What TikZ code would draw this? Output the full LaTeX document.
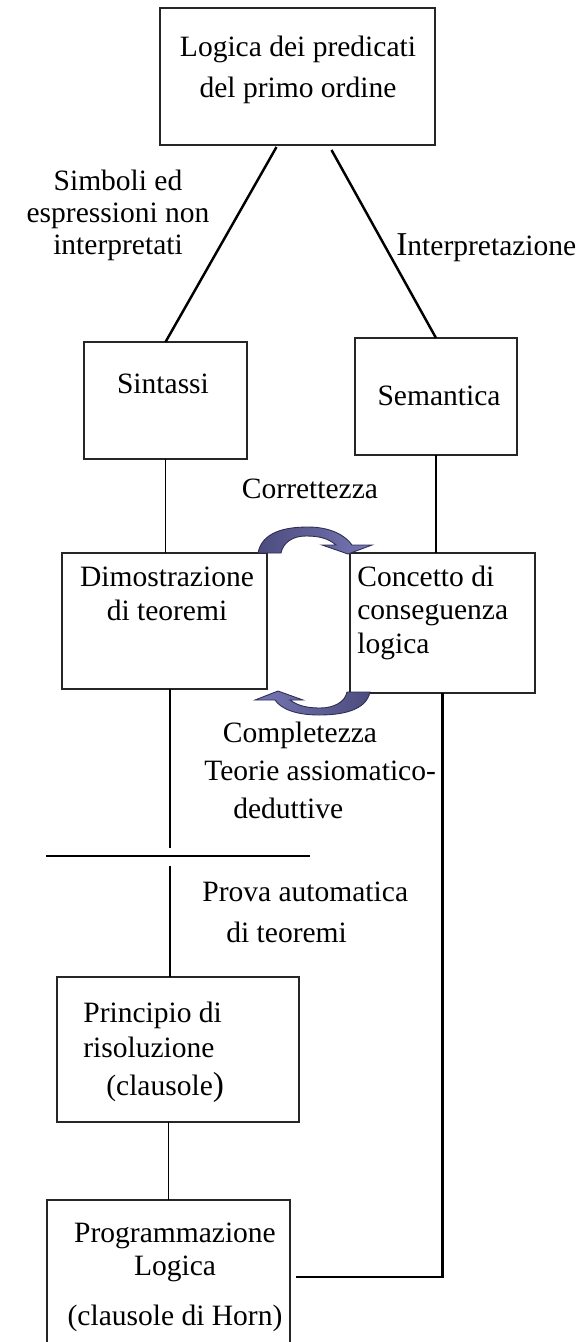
\documentclass[tikz,border=0pt]{standalone}
\usepackage{fontspec}
\setmainfont{Liberation Serif}
\usetikzlibrary{calc}
\definecolor{arrowdark}{RGB}{76,76,126}
\definecolor{arrowlight}{RGB}{118,118,180}
\definecolor{arrowedge}{RGB}{45,45,85}
\begin{document}
\begin{tikzpicture}[
    x=0.02cm, y=-0.02cm,
    % Box style
    box/.style={
        rectangle,
        draw=black!85,
        line width=0.8pt,
        inner sep=0pt,
        outer sep=0pt
    },
    % Label style (anchored on the baseline of the last line)
    lbl/.style={
        inner sep=0pt,
        font=\fontsize{16.8}{#1}\selectfont
    },
    lbl/.default=19,
    % Line styles
    thin/.style={line width=0.75pt},
    thickline/.style={line width=1.4pt},
    % Curved arrow style
    curvy/.style={
        draw=arrowedge,
        line width=0.5pt
    }
]

\clip (0,0) rectangle (575,1342);

% === Top: logic ===
\node[box, minimum width=5.5cm, minimum height=2.74cm] (top) at (297.5,76.5) {};
\node[lbl=22.8, anchor=base, align=center] (toptxt) at (298,97)
    {Logica dei predicati\\del primo ordine};

% === Syntax / Semantics ===
\node[box, minimum width=3.26cm, minimum height=2.34cm] (sin) at (165.5,400.5) {};
\node[lbl, anchor=base] (sintxt) at (163,393) {Sintassi};
\node[box, minimum width=3.24cm, minimum height=2.34cm] (sem) at (436,396.5) {};
\node[lbl, anchor=base] (semtxt) at (439,405) {Semantica};

\node[lbl=18.2, anchor=base, align=center] (simb) at (118,254)
    {Simboli ed\\espressioni non\\interpretati};
\node[lbl, anchor=base west] (interp) at (396,255)
    {{\fontsize{19}{19}\selectfont I}nterpretazione};

\draw[thickline] ($(top.south)+(-21,2)$) -- (sin.north);
\draw[thickline] ($(top.south)+(34,5)$) -- (sem.north);

% === Proofs / consequence ===
\node[box, minimum width=4.1cm, minimum height=2.72cm] (dim) at (164.5,621) {};
\node[lbl=18.8, anchor=base, align=center] (dimtxt) at (167,620)
    {Dimostrazione\\di teoremi};
\node[box, minimum width=3.7cm, minimum height=2.8cm] (con) at (442.5,623) {};
\node[lbl=18.8, anchor=base west, align=left] (context) at (357,653)
    {Concetto di\\conseguenza\\logica};

\draw[thin] (sin.south) -- (sin.south |- dim.north);
\draw[thin] (sem.south) -- (sem.south |- con.north);

\node[lbl, anchor=base] (corr) at (310,498) {Correttezza};
\node[lbl, anchor=base] (compl) at (300,742) {Completezza};

% curved arrows between the two boxes
\path[curvy, left color=arrowdark, right color=arrowlight]
    (258,553) .. controls (262,532) and (285,527) .. (308,527)
    .. controls (330,527) and (345,535) .. (352,545)
    -- (372,545) -- (348,554) -- (322,545) -- (336,545)
    .. controls (328,538) and (318,536) .. (306,536)
    .. controls (292,536) and (283,543) .. (281,553) -- cycle;
\path[curvy, left color=arrowlight, right color=arrowdark]
    (370,692) .. controls (366,711) and (341,715) .. (319,715)
    .. controls (296,715) and (281,709) .. (275,700)
    -- (255,700) -- (278,691) -- (303,700) -- (290,700)
    .. controls (298,706) and (308,708) .. (320,708)
    .. controls (334,708) and (345,702) .. (347,692) -- cycle;

% === Theories ===
\node[lbl=21.6, anchor=base west, align=left] (teorie) at (204,818)
    {Teorie assiomatico-\\\hspace*{0.58cm}deduttive};

\coordinate (cutT) at (170,848);
\coordinate (cutB) at (170,866);
\coordinate (cutL) at (46,856);
\coordinate (cutR) at (310,856);
\draw[thickline] (cutT |- dim.south) -- (cutT);
\draw[thickline] (cutL) -- (cutR);

\node[lbl=22.8, anchor=base west, align=left] (prova) at (202,942)
    {Prova automatica\\\hspace*{0.48cm}di teoremi};

% === Resolution / logic programming ===
\node[box, minimum width=4.84cm, minimum height=2.9cm] (pri) at (178,1049.5) {};
\node[lbl=19.4, anchor=base west, align=left] (pritxt) at (83,1095)
    {Principio di\\risoluzione\\[2.2pt]\hspace*{0.46cm}(clausole{\fontsize{19}{19}\selectfont )}};
\node[box, minimum width=4.86cm, minimum height=3.08cm] (prg) at (168.5,1277) {};
\node[lbl=18.8, anchor=base, align=center] (prgtxt) at (175,1325)
    {Programmazione\\Logica\\[9.6pt](clausole di Horn)};

\draw[thickline] (cutB) -- (cutB |- pri.north);
\draw[line width=1pt] (prg.north |- pri.south) -- (prg.north);
\draw[thickline] (con.south) |- ([xshift=0.12cm]prg.east);

\end{tikzpicture}
\end{document}
